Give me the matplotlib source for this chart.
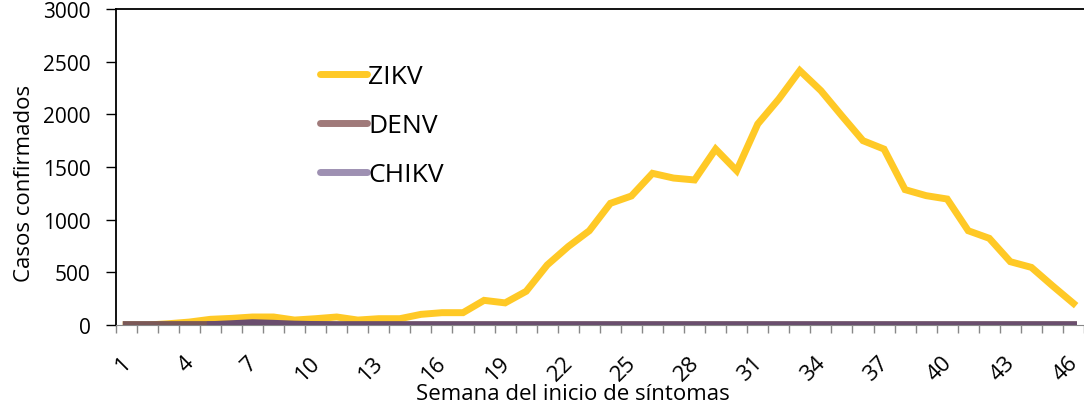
import numpy as np
import matplotlib
matplotlib.use('Agg')
import matplotlib.pyplot as plt
import matplotlib.transforms as mtransforms
from matplotlib.lines import Line2D

plt.rcParams['font.family'] = ['Open Sans', 'DejaVu Sans']

# Semana epidemiologica del inicio de sintomas
semanas = list(range(1, 47))
zikv = [0, 0, 12, 28, 54, 63, 76, 76, 47, 60, 76, 47, 60, 60, 101, 117, 117, 234, 210, 320,
        570, 745, 895, 1155, 1225, 1440, 1395, 1377, 1670, 1465, 1908, 2145, 2415, 2225, 1985,
        1750, 1670, 1285, 1228, 1196, 895, 823, 601, 547, 373, 205]
denv = [4, 4, 4, 4, 4, 4, 6, 6, 4, 3] + [2] * 36
chikv = [np.nan] * 4 + [3, 12, 22, 16, 8, 4] + [1] * 36
tick_labels = [str(s) for s in range(1, 47, 3)]

fig = plt.figure(figsize=(10.84, 4.06), dpi=100)
ax = fig.add_axes([115.7 / 1084, 80 / 406, 1 - 115.7 / 1084, 316 / 406])

ax.plot(semanas, zikv, color='#ffc926', lw=5, solid_joinstyle='miter', zorder=3)
ax.plot(semanas, denv, color='#7a5858', lw=5, zorder=4)
ax.plot(semanas, chikv, color='#6a4e6e', lw=5, zorder=5)

ax.set_xlim(0.5, 46.1)
ax.set_ylim(0, 3000)
ax.set_yticks(range(0, 3001, 500))
ax.set_xticks(range(1, 47, 3))
ax.set_xticklabels(tick_labels, rotation=45, ha='right', va='top')
ax.set_xticks(np.arange(0.5, 47, 1), minor=True)
ax.tick_params(axis='x', which='major', length=0, labelsize=16, pad=19)
ax.tick_params(axis='x', which='minor', length=6, color='#888888', width=1)
ax.tick_params(axis='y', length=7, width=1, labelsize=15, pad=11)

# nudge the rotated labels right, like the Excel original
shift = mtransforms.ScaledTranslation(9 / 100, 0, fig.dpi_scale_trans)
for lab in ax.get_xticklabels():
    lab.set_transform(lab.get_transform() + shift)

for side in ['left', 'top']:
    ax.spines[side].set_color('black')
    ax.spines[side].set_linewidth(1.3)
ax.spines['right'].set_visible(False)
ax.spines['bottom'].set_color('#888888')

ax.set_xlabel('Semana del inicio de síntomas', fontsize=16)
ax.xaxis.label.set_verticalalignment('baseline')
ax.xaxis.set_label_coords(0.472, -0.234)
ax.set_ylabel('Casos confirmados', fontsize=16)
ax.yaxis.set_label_coords(-0.0835, 0.45)

handles = [Line2D([], [], color='#ffc926', lw=5, solid_capstyle='round'),
           Line2D([], [], color='#a07a7a', lw=5, solid_capstyle='round'),
           Line2D([], [], color='#9e90b2', lw=5, solid_capstyle='round')]
ax.legend(handles, ['ZIKV', 'DENV', 'CHIKV'], frameon=False, fontsize=19,
          loc='upper left', bbox_to_anchor=(0.186, 0.9), handlelength=1.8,
          handletextpad=0.05, labelspacing=0.9)

fig.savefig('out.png', dpi=100)
